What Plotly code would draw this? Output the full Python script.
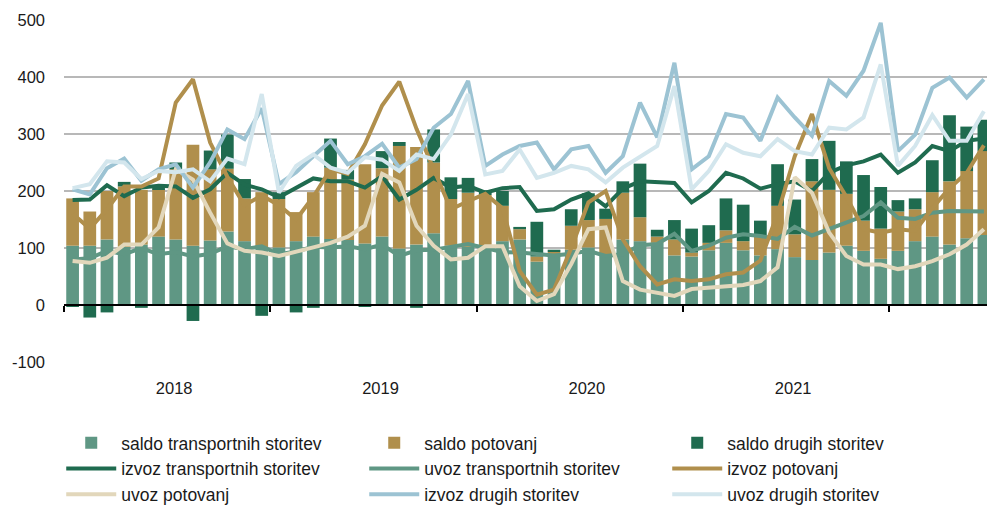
import plotly.graph_objects as go

# Monthly data, January 2018 - June 2022 (EUR million)
years = ["2018", "2019", "2020", "2021"]

saldo_transport = [104, 104, 115, 102, 106, 120, 115, 104, 113, 129, 112, 100,
                   101, 112, 120, 116, 114, 108, 120, 99, 106, 126, 104, 102,
                   97, 112, 115, 76, 86, 97, 101, 87, 115, 112, 109, 87,
                   85, 96, 109, 96, 87, 98, 84, 79, 92, 104, 95, 81,
                   95, 112, 120, 106, 117, 123]
saldo_potovanj = [83, 60, 85, 106, 96, 83, 123, 177, 125, 110, 75, 98,
                  85, 51, 78, 125, 106, 139, 120, 180, 171, 124, 82, 95,
                  96, 62, 18, 9, 7, 42, 48, 64, 82, 42, 11, 28,
                  7, 13, 22, 16, 33, 76, 40, 138, 110, 91, 53, 53,
                  69, 56, 78, 111, 118, 147]
saldo_drugih = [-2, -22, -13, 8, -5, 3, 12, -28, 33, 60, 34, -19,
                12, -13, -5, 51, 17, -2, 30, 7, -5, 58, 38, 26,
                8, 26, 4, 61, 4, 29, 47, 18, 20, 94, 12, 34,
                42, 31, 56, 64, 28, 73, 61, 39, 86, 57, 80, 73,
                20, 19, 56, 116, 78, 55]

izvoz_transport = [184, 185, 210, 191, 206, 209, 208, 188, 203, 232, 211, 203,
                   189, 206, 222, 217, 217, 206, 226, 185, 202, 223, 206, 209,
                   197, 205, 207, 165, 168, 185, 196, 173, 204, 217, 216, 214,
                   180, 200, 232, 222, 204, 212, 217, 200, 232, 245, 252, 264,
                   232, 250, 279, 270, 288, 292]
uvoz_transport = [80, 82, 95, 89, 100, 89, 93, 85, 90, 103, 98, 103,
                  89, 94, 102, 101, 103, 98, 106, 86, 96, 97, 102, 107,
                  100, 93, 92, 89, 87, 90, 95, 86, 89, 105, 107, 125,
                  95, 104, 118, 124, 121, 116, 137, 122, 133, 144, 156, 180,
                  153, 151, 162, 165, 165, 164]
izvoz_potovanj = [160, 134, 168, 208, 208, 222, 355, 396, 285, 225, 175, 192,
                  175, 150, 190, 238, 230, 282, 350, 392, 309, 238, 168, 182,
                  195, 170, 60, 18, 27, 100, 180, 200, 115, 68, 36, 45,
                  42, 45, 54, 57, 78, 160, 261, 335, 240, 190, 133, 127,
                  133, 130, 170, 205, 232, 280]
uvoz_potovanj = [77, 74, 83, 106, 106, 136, 238, 220, 162, 108, 95, 92,
                 86, 93, 101, 109, 120, 139, 230, 215, 139, 104, 80, 83,
                 103, 103, 33, 7, 19, 72, 133, 136, 42, 27, 22, 16,
                 28, 30, 33, 35, 42, 66, 224, 197, 127, 86, 71, 71,
                 63, 68, 77, 89, 106, 133]
izvoz_drugih = [203, 194, 240, 257, 218, 238, 247, 206, 250, 308, 291, 345,
                212, 233, 261, 288, 247, 261, 283, 241, 256, 311, 335, 393,
                244, 264, 279, 285, 238, 273, 279, 232, 261, 355, 294, 425,
                238, 261, 335, 329, 288, 364, 329, 297, 393, 367, 411, 495,
                270, 299, 381, 399, 364, 396]
uvoz_drugih = [205, 212, 252, 250, 221, 235, 233, 238, 217, 257, 247, 370,
               197, 244, 264, 241, 232, 259, 255, 235, 264, 256, 299, 370,
               229, 235, 273, 223, 232, 244, 238, 215, 241, 261, 279, 384,
               203, 235, 282, 267, 261, 291, 270, 264, 311, 308, 329, 422,
               244, 279, 333, 288, 288, 340]

y_tick_values = [-100, 0, 100, 200, 300, 400, 500]
y_tick_labels = ["-100", "0", "100", "200", "300", "400", "500"]

x = list(range(len(saldo_transport)))
year_centers = [12 * k + 5.5 for k in range(len(years))]
year_bounds = [12 * k - 0.5 for k in range(len(years) + 1)]
y_range = [-100, 500]
x_range = [-0.5, 53.18]

C_TEAL = "#5f9784"
C_TAN = "#b08f4c"
C_DARK = "#1f6b4f"
C_BEIGE = "#e2d7bb"
C_BLUE = "#9cc3d3"
C_LBLUE = "#d3e6ed"

FONT = "Liberation Sans Narrow, Arial Narrow, Liberation Sans, Arial, sans-serif"
TXT = "#1a1a1a"

fig = go.Figure()
for name, vals, col in [
    ("saldo transportnih storitev", saldo_transport, C_TEAL),
    ("saldo potovanj", saldo_potovanj, C_TAN),
    ("saldo drugih storitev", saldo_drugih, C_DARK),
]:
    fig.add_trace(go.Bar(x=x, y=vals, name=name,
                         marker=dict(color=col, line=dict(width=0))))

for name, vals, col in [
    ("izvoz transportnih storitev", izvoz_transport, C_DARK),
    ("uvoz transportnih storitev", uvoz_transport, C_TEAL),
    ("izvoz potovanj", izvoz_potovanj, C_TAN),
    ("uvoz potovanj", uvoz_potovanj, C_BEIGE),
    ("izvoz drugih storitev", izvoz_drugih, C_BLUE),
    ("uvoz drugih storitev", uvoz_drugih, C_LBLUE),
]:
    fig.add_trace(go.Scatter(x=x, y=vals, name=name, mode="lines", xaxis="x2",
                             line=dict(color=col, width=4)))

zero_pos = (0 - y_range[0]) / (y_range[1] - y_range[0])

fig.update_layout(
    width=987, height=506,
    margin=dict(l=64, r=0, t=20, b=144, autoexpand=False),
    paper_bgcolor="white", plot_bgcolor="white",
    barmode="relative", bargap=0.26,
    font=dict(family=FONT, size=17, color=TXT),
    showlegend=True,
    legend=dict(orientation="h", x=-0.003, y=-0.184, xanchor="left", yanchor="top",
                font=dict(family=FONT, size=17.5, color=TXT),
                itemwidth=50, entrywidth=238, entrywidthmode="pixels",
                traceorder="normal", bgcolor="rgba(0,0,0,0)"),
    xaxis=dict(range=x_range, anchor="y", side="bottom",
               tickvals=year_centers, ticktext=years, ticks="",
               showline=False, showgrid=False, zeroline=False,
               tickfont=dict(family=FONT, size=16.5, color=TXT),
               ticklabelstandoff=14, ticklabelshift=7),
    xaxis2=dict(range=x_range, overlaying="x", anchor="free", position=zero_pos,
                showline=True, linecolor="black", linewidth=1.5,
                ticks="outside", ticklen=6, tickwidth=1.5, tickcolor="black",
                tickvals=year_bounds, showticklabels=False,
                showgrid=False, zeroline=False),
    yaxis=dict(range=y_range, tickvals=y_tick_values, ticktext=y_tick_labels,
               showgrid=True, gridcolor="#b8b8b8",
               gridwidth=1.6, zeroline=False, showline=False, ticks="",
               tickfont=dict(family=FONT, size=16.5, color=TXT),
               ticklabelstandoff=18),
)

fig.write_html("out.html", config={"displayModeBar": False},
               post_script="document.body.style.margin='0px';")
